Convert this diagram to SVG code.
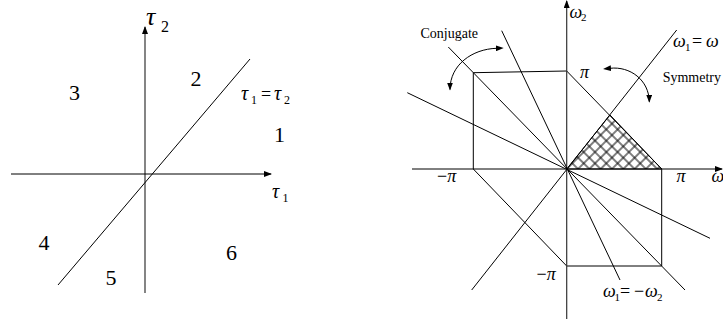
<svg xmlns="http://www.w3.org/2000/svg" width="723" height="320" viewBox="0 0 723 320">
<style>
.ln{stroke:#000;stroke-width:1;fill:none}
.ax{stroke:#333;stroke-width:1.2;fill:none}
.gr{font-family:"Liberation Serif","Times New Roman",serif;font-style:italic;fill:#000}
.num{font-family:"Liberation Serif","Times New Roman",serif;fill:#000}
.lbl{font-family:"Liberation Serif","Times New Roman",serif;fill:#000;font-size:14px}
</style>
<defs>
<marker id="arr" markerWidth="8" markerHeight="6" refX="7" refY="3" orient="auto" markerUnits="userSpaceOnUse">
<path d="M0,0 L8,3 L0,6 Z" fill="#000"/>
</marker>
<marker id="arrs" markerWidth="8" markerHeight="6" refX="1" refY="3" orient="auto-start-reverse" markerUnits="userSpaceOnUse">
<path d="M0,0 L8,3 L0,6 Z" fill="#000"/>
</marker>
<pattern id="hatch" patternUnits="userSpaceOnUse" width="8" height="8" patternTransform="translate(566.7,169) rotate(45) translate(-4,-4)">
<path d="M4,-1 V9 M-1,4 H9" stroke="#000" stroke-width="1"/>
</pattern>
</defs>

<g id="left-diagram">
<g id="connectors-left">
<line class="ax" x1="145" y1="293" x2="145" y2="27" marker-end="url(#arr)"/>
<line class="ln" x1="11" y1="174" x2="271" y2="174" marker-end="url(#arr)"/>
<line class="ln" x1="58" y1="285" x2="250" y2="59"/>
</g>
<g id="label-tau2">
<text class="gr" x="146" y="25" font-size="26">τ</text>
<text class="num" x="161" y="31.5" font-size="16">2</text>
</g>
<g id="label-tau1">
<text class="gr" x="272" y="198" font-size="20">τ</text>
<text class="num" x="282.5" y="202" font-size="12">1</text>
</g>
<g id="label-eq">
<text class="gr" x="241" y="100" font-size="20">τ</text>
<text class="num" x="251" y="104" font-size="12">1</text>
<text class="num" x="261" y="100" font-size="18">=</text>
<text class="gr" x="274" y="100" font-size="20">τ</text>
<text class="num" x="284" y="104" font-size="12">2</text>
</g>
<g id="regions">
<text class="num" x="69" y="100" font-size="22">3</text>
<text class="num" x="190.5" y="86" font-size="22">2</text>
<text class="num" x="274" y="142" font-size="22">1</text>
<text class="num" x="38.5" y="250" font-size="22">4</text>
<text class="num" x="105.5" y="285" font-size="22">5</text>
<text class="num" x="226" y="260" font-size="22">6</text>
</g>
</g>

<g id="right-diagram">
<g id="hatched-region">
<polygon points="566.7,169 610,115 661.7,169" fill="url(#hatch)" stroke="#000" stroke-width="1"/>
</g>
<g id="hexagon">
<polygon class="ln" points="473.3,72.7 566.7,71 661.7,169 661.7,266 566.7,266 473.3,169"/>
</g>
<g id="connectors-right">
<line class="ax" x1="566.7" y1="319" x2="566.7" y2="1" marker-end="url(#arr)"/>
<line class="ln" x1="412" y1="169" x2="722" y2="169" marker-end="url(#arr)"/>
<line class="ln" x1="471.7" y1="290" x2="676.7" y2="30"/>
<line class="ln" x1="448.3" y1="47" x2="685" y2="290"/>
<line class="ln" x1="501.7" y1="30.7" x2="620" y2="280"/>
<line class="ln" x1="407.3" y1="92.7" x2="710" y2="238.3"/>
<path class="ln" d="M496.7,48.3 C472,49 450,65 450,89.5" marker-start="url(#arrs)" marker-end="url(#arr)"/>
<path class="ln" d="M610,68.3 C630,66 649,80 649.3,101.7" marker-start="url(#arrs)" marker-end="url(#arr)"/>
</g>
<g id="label-omega2">
<text class="gr" x="569.5" y="18" font-size="18">ω</text>
<text class="num" x="581" y="21" font-size="11">2</text>
</g>
<g id="label-conjugate"><text class="lbl" x="420.5" y="37.5">Conjugate</text></g>
<g id="label-symmetry"><text class="lbl" x="662.7" y="82">Symmetry</text></g>
<g id="label-omega-eq">
<text class="gr" x="673" y="47" font-size="18">ω</text>
<text class="num" x="685" y="51" font-size="11">1</text>
<text class="num" x="692" y="47" font-size="18">=</text>
<text class="gr" x="706" y="47" font-size="18">ω</text>
</g>
<g id="label-pi-top"><text class="gr" x="580" y="78" font-size="18">π</text></g>
<g id="label-pi-left"><text class="num" x="437" y="182" font-size="18">−<tspan class="gr">π</tspan></text></g>
<g id="label-pi-right"><text class="gr" x="676.5" y="182" font-size="18">π</text></g>
<g id="label-omega1"><text class="gr" x="711.5" y="182" font-size="18">ω</text></g>
<g id="label-pi-bottom"><text class="num" x="536.5" y="280" font-size="18">−<tspan class="gr">π</tspan></text></g>
<g id="label-omega-neg">
<text class="gr" x="603" y="296.5" font-size="18">ω</text>
<text class="num" x="614.5" y="301" font-size="11">1</text>
<text class="num" x="620" y="296.5" font-size="18">=</text>
<text class="num" x="634" y="296.5" font-size="18">−</text>
<text class="gr" x="645" y="296.5" font-size="18">ω</text>
<text class="num" x="657" y="301" font-size="11">2</text>
</g>
</g>
</svg>
